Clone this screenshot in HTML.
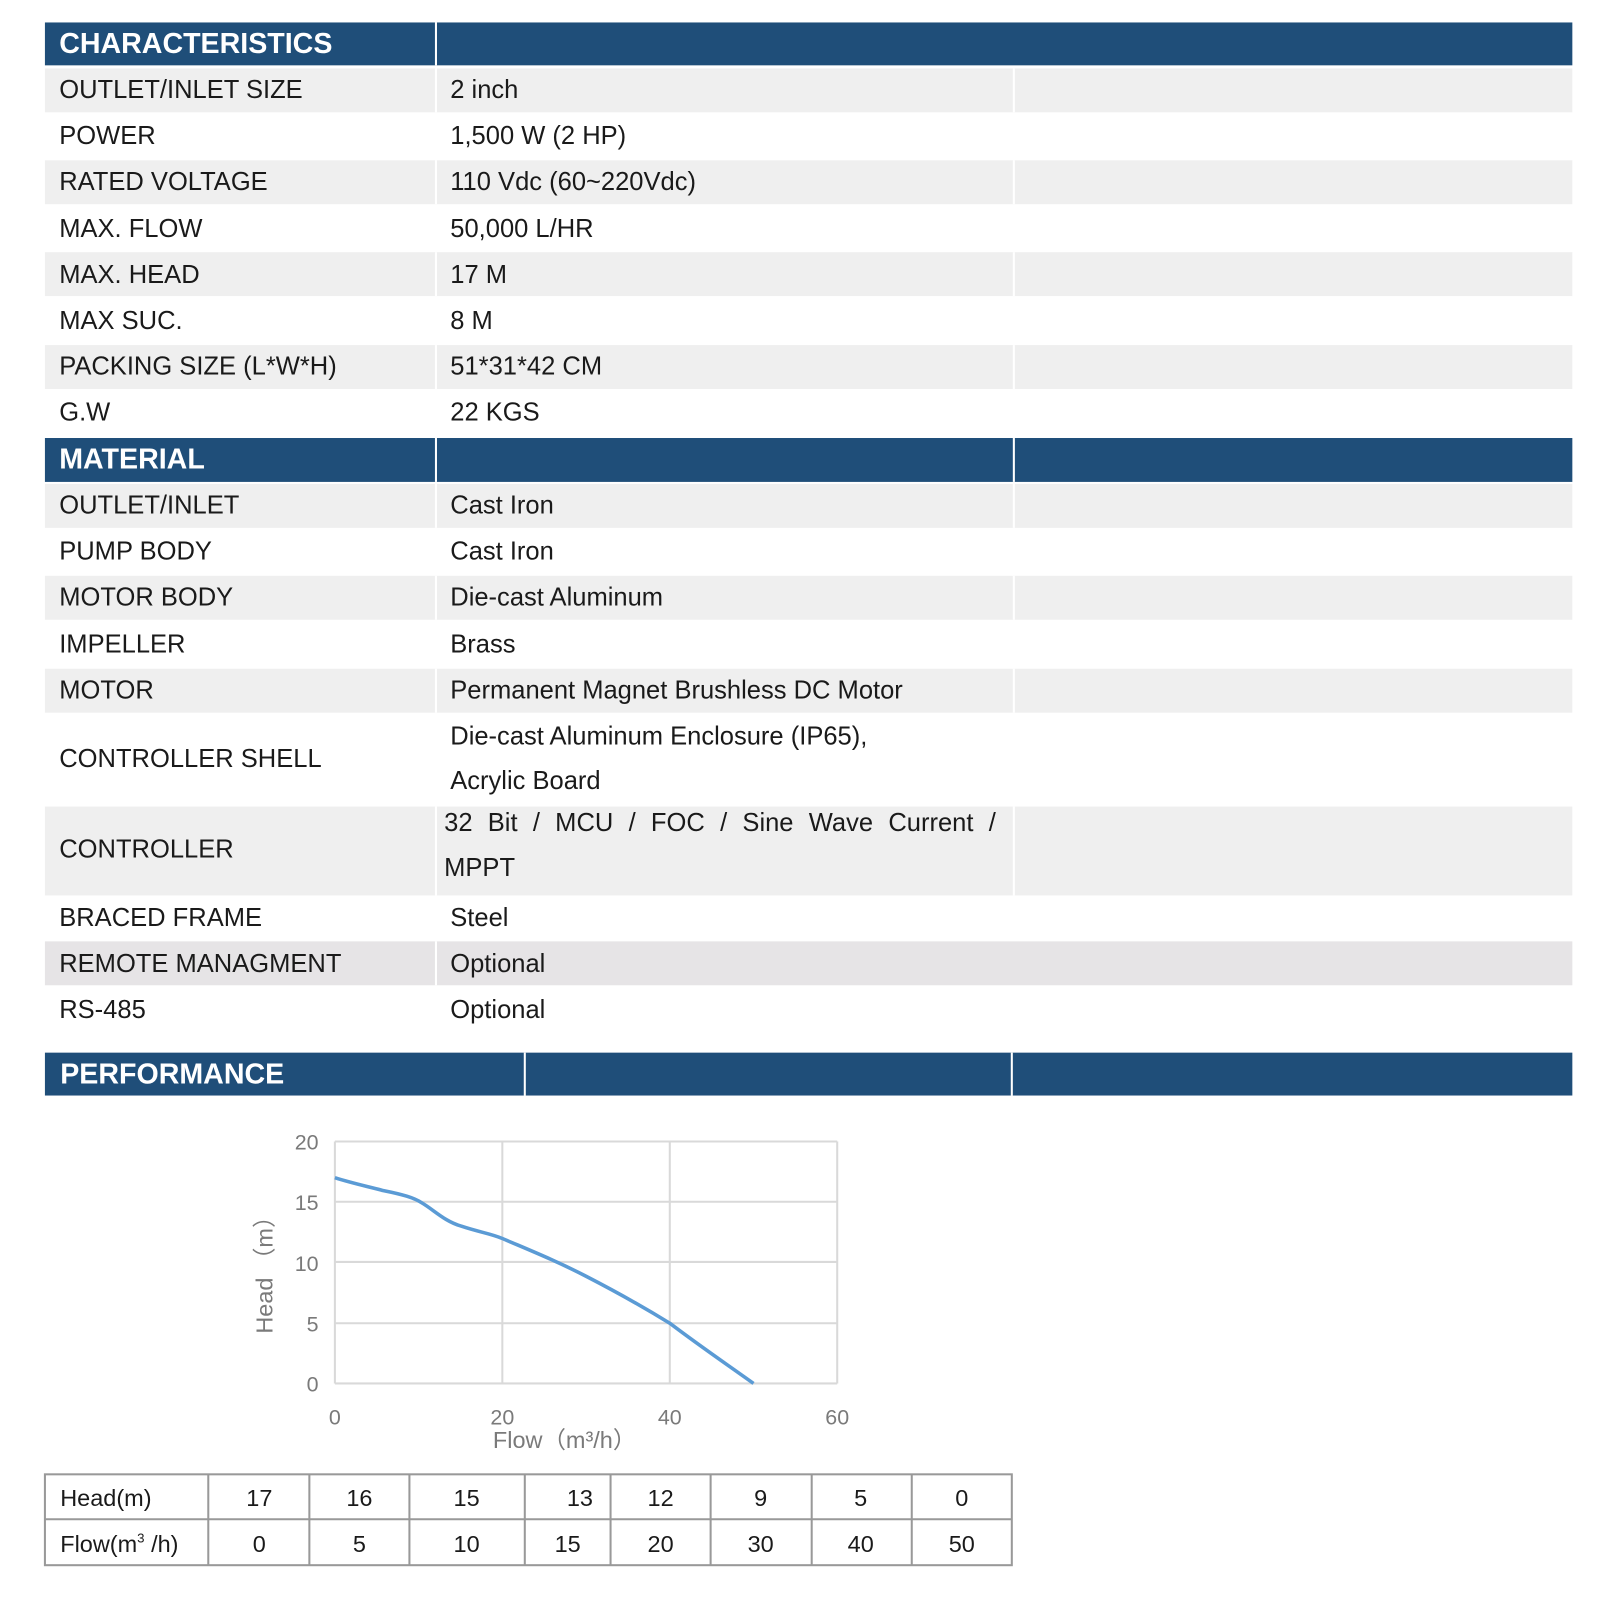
<!DOCTYPE html>
<html><head><meta charset="utf-8"><style>
html,body{margin:0;padding:0;background:#fff;width:1600px;height:1600px;overflow:hidden}
#w{position:absolute;left:0;top:0;width:1560px;height:1560px;transform:scale(1.021);transform-origin:0 0;font-family:"Liberation Sans",sans-serif;color:#1a1a1a}
.r{position:absolute;left:44px;width:1496px}
.g{background:#efefef}
.h{background:#1f4e79;color:#fff;font-weight:bold;font-size:28px}
.t{position:absolute;font-size:25px;white-space:nowrap}
.d{position:absolute;top:0;bottom:0;width:2px;background:#fff}
</style></head><body><div id="w">
<div class="r h" style="top:22px;height:42px"><span class="t" style="left:14px;top:5px;font-size:28px">CHARACTERISTICS</span><div class="d" style="left:382px"></div></div>
<div class="r g" style="top:67px;height:43px"><div class="d" style="left:382px"></div><div class="d" style="left:948px"></div></div>
<div class="r g" style="top:157px;height:43px"><div class="d" style="left:382px"></div><div class="d" style="left:948px"></div></div>
<div class="r g" style="top:247px;height:43px"><div class="d" style="left:382px"></div><div class="d" style="left:948px"></div></div>
<div class="r g" style="top:338px;height:43px"><div class="d" style="left:382px"></div><div class="d" style="left:948px"></div></div>
<div class="t" style="left:58px;top:74px">OUTLET/INLET SIZE</div><div class="t" style="left:441px;top:74px">2 inch</div>
<div class="t" style="left:58px;top:119px">POWER</div><div class="t" style="left:441px;top:119px">1,500 W (2 HP)</div>
<div class="t" style="left:58px;top:164px">RATED VOLTAGE</div><div class="t" style="left:441px;top:164px">110 Vdc (60~220Vdc)</div>
<div class="t" style="left:58px;top:210px">MAX. FLOW</div><div class="t" style="left:441px;top:210px">50,000 L/HR</div>
<div class="t" style="left:58px;top:255px">MAX. HEAD</div><div class="t" style="left:441px;top:255px">17 M</div>
<div class="t" style="left:58px;top:300px">MAX SUC.</div><div class="t" style="left:441px;top:300px">8 M</div>
<div class="t" style="left:58px;top:345px">PACKING SIZE (L*W*H)</div><div class="t" style="left:441px;top:345px">51*31*42 CM</div>
<div class="t" style="left:58px;top:390px">G.W</div><div class="t" style="left:441px;top:390px">22 KGS</div>
<div class="r h" style="top:429px;height:43px"><span class="t" style="left:14px;top:5px;font-size:28px">MATERIAL</span><div class="d" style="left:382px"></div><div class="d" style="left:948px"></div></div>
<div class="r g" style="top:474px;height:43px"><div class="d" style="left:382px"></div><div class="d" style="left:948px"></div></div>
<div class="r g" style="top:564px;height:43px"><div class="d" style="left:382px"></div><div class="d" style="left:948px"></div></div>
<div class="r g" style="top:655px;height:43px"><div class="d" style="left:382px"></div><div class="d" style="left:948px"></div></div>
<div class="r g" style="top:790px;height:87px"><div class="d" style="left:382px"></div><div class="d" style="left:948px"></div></div>
<div class="r" style="top:922px;height:43px;background:#e6e4e6"><div class="d" style="left:382px"></div></div>
<div class="t" style="left:58px;top:481px">OUTLET/INLET</div><div class="t" style="left:441px;top:481px">Cast Iron</div>
<div class="t" style="left:58px;top:526px">PUMP BODY</div><div class="t" style="left:441px;top:526px">Cast Iron</div>
<div class="t" style="left:58px;top:571px">MOTOR BODY</div><div class="t" style="left:441px;top:571px">Die-cast Aluminum</div>
<div class="t" style="left:58px;top:617px">IMPELLER</div><div class="t" style="left:441px;top:617px">Brass</div>
<div class="t" style="left:58px;top:662px">MOTOR</div><div class="t" style="left:441px;top:662px">Permanent Magnet Brushless DC Motor</div>
<div class="t" style="left:58px;top:729px">CONTROLLER SHELL</div><div class="t" style="left:441px;top:707px">Die-cast Aluminum Enclosure (IP65),</div><div class="t" style="left:441px;top:751px">Acrylic Board</div>
<div class="t" style="left:58px;top:818px">CONTROLLER</div><div class="t" style="left:435px;top:792px;word-spacing:8px">32 Bit / MCU / FOC / Sine Wave Current /</div><div class="t" style="left:435px;top:836px">MPPT</div>
<div class="t" style="left:58px;top:885px">BRACED FRAME</div><div class="t" style="left:441px;top:885px">Steel</div>
<div class="t" style="left:58px;top:930px">REMOTE MANAGMENT</div><div class="t" style="left:441px;top:930px">Optional</div>
<div class="t" style="left:58px;top:975px">RS-485</div><div class="t" style="left:441px;top:975px">Optional</div>
<div class="r h" style="top:1031px;height:42px"><span class="t" style="left:15px;top:5px;font-size:28px">PERFORMANCE</span><div class="d" style="left:469px"></div><div class="d" style="left:946px"></div></div>
<svg style="position:absolute;left:0;top:0" width="1560" height="1560">
<g stroke="#d9d9d9" stroke-width="2" fill="none">
<line x1="328" y1="1118" x2="820" y2="1118"/><line x1="328" y1="1177" x2="820" y2="1177"/><line x1="328" y1="1236" x2="820" y2="1236"/><line x1="328" y1="1296" x2="820" y2="1296"/><line x1="328" y1="1355" x2="820" y2="1355"/>
<line x1="328" y1="1118" x2="328" y2="1355"/><line x1="492" y1="1118" x2="492" y2="1355"/><line x1="656" y1="1118" x2="656" y2="1355"/><line x1="820" y1="1118" x2="820" y2="1355"/>
</g>
<path d="M328,1153.5 C345,1159 360,1162 375,1166 C395,1170 405,1173 413,1178 C425,1185 435,1196 452,1201 C470,1207 480,1208 492,1213 C520,1225 545,1235 574,1250 C605,1266 630,1280 656,1296 C685,1318 710,1335 738,1355" stroke="#5b9bd5" stroke-width="3.5" fill="none"/>
<g font-family="Liberation Sans, sans-serif" font-size="21" fill="#7a7a7a" text-anchor="end">
<text x="312" y="1126">20</text><text x="312" y="1185">15</text><text x="312" y="1245">10</text><text x="312" y="1304">5</text><text x="312" y="1363">0</text>
</g>
<g font-family="Liberation Sans, sans-serif" font-size="21" fill="#7a7a7a" text-anchor="middle">
<text x="328" y="1395">0</text><text x="492" y="1395">20</text><text x="656" y="1395">40</text><text x="820" y="1395">60</text>
<text x="553" y="1418" font-size="23">Flow（m³/h）</text>
<text transform="translate(267,1243) rotate(-90)" font-size="23">Head （m）</text>
</g>
<g stroke="#999" stroke-width="2" fill="none">
<rect x="44" y="1444" width="947" height="89"/>
<line x1="44" y1="1488" x2="991" y2="1488"/>
<line x1="204" y1="1444" x2="204" y2="1533"/><line x1="303" y1="1444" x2="303" y2="1533"/><line x1="401" y1="1444" x2="401" y2="1533"/><line x1="514" y1="1444" x2="514" y2="1533"/><line x1="598" y1="1444" x2="598" y2="1533"/><line x1="696" y1="1444" x2="696" y2="1533"/><line x1="795" y1="1444" x2="795" y2="1533"/><line x1="893" y1="1444" x2="893" y2="1533"/>
</g>
<g font-family="Liberation Sans, sans-serif" font-size="23" fill="#1a1a1a" text-anchor="middle">
<text x="59" y="1475" text-anchor="start">Head(m)</text><text x="59" y="1520" text-anchor="start">Flow(m<tspan font-size="13" dy="-9">3</tspan><tspan dy="9"> /h)</tspan></text>
<text x="254" y="1475">17</text><text x="352" y="1475">16</text><text x="457" y="1475">15</text><text x="568" y="1475">13</text><text x="647" y="1475">12</text><text x="745" y="1475">9</text><text x="843" y="1475">5</text><text x="942" y="1475">0</text>
<text x="254" y="1520">0</text><text x="352" y="1520">5</text><text x="457" y="1520">10</text><text x="556" y="1520">15</text><text x="647" y="1520">20</text><text x="745" y="1520">30</text><text x="843" y="1520">40</text><text x="942" y="1520">50</text>
</g>
</svg>
</div></body></html>
